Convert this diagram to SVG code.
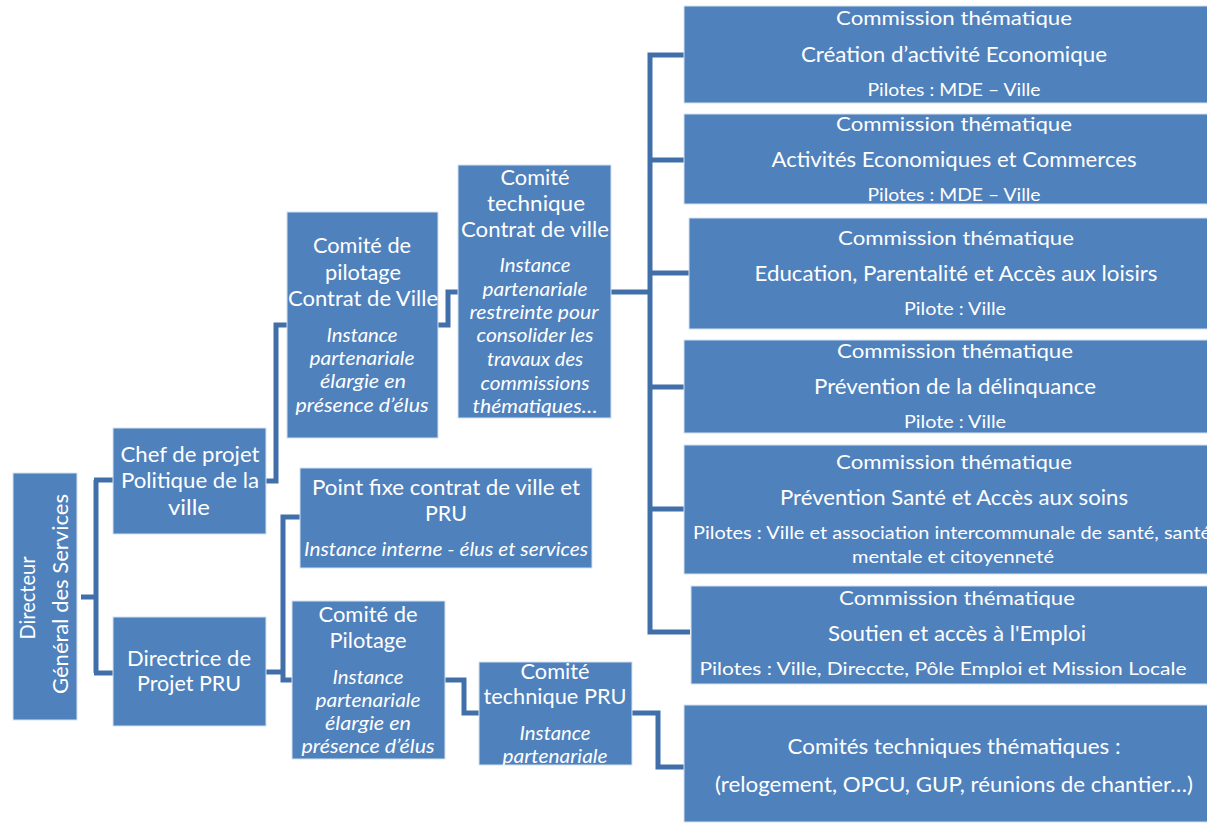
<svg xmlns="http://www.w3.org/2000/svg" width="1207" height="824" viewBox="0 0 1207 824">
<style>
.box{fill:#4F81BD;stroke:#D6E1EF;stroke-width:1}
.con{fill:none;stroke:#416FA9;stroke-width:5;stroke-linejoin:miter}
text{font-family:"Lato","Liberation Sans",sans-serif;fill:#FFFFFF;text-anchor:middle}
.r{font-size:21px}
.i{font-size:19px;font-style:italic}
.h{font-size:20px}
.s{font-size:21px}
.p{font-size:18px}
</style>
<defs>
<clipPath id="ctpru"><rect x="479" y="662" width="153" height="103"/></clipPath>
</defs>
<g id="connectors">
<path class="con" d="M81,597 H96 M96,480 V673 M94,480 H113 M94,673 H113"/>
<path class="con" d="M266,481 H276 V325 H287"/>
<path class="con" d="M438,325 H448 V292 H458"/>
<path class="con" d="M611,292 H650"/>
<path class="con" d="M684,55 H650 V632 H690 M650,160 H684 M650,273 H689 M650,387 H684 M650,509 H684"/>
<path class="con" d="M266,672 H283 V517 H300 M283,670 V680 H292"/>
<path class="con" d="M445,680 H464 V713 H479"/>
<path class="con" d="M632,713 H658 V767 H684"/>
</g>
<g id="n-directeur">
<rect class="box" x="13" y="473" width="64" height="247"/>
<text class="r" transform="translate(35,598) rotate(-90)" textLength="83" lengthAdjust="spacingAndGlyphs">Directeur</text>
<text class="r" transform="translate(68,594) rotate(-90)" textLength="200" lengthAdjust="spacingAndGlyphs">Général des Services</text>
</g>
<g id="n-chef">
<rect class="box" x="113" y="428" width="153" height="106"/>
<text class="r" x="190" y="462" textLength="139" lengthAdjust="spacingAndGlyphs">Chef de projet</text>
<text class="r" x="190" y="488" textLength="138" lengthAdjust="spacingAndGlyphs">Politique de la</text>
<text class="r" x="189" y="515" textLength="42" lengthAdjust="spacingAndGlyphs">ville</text>
</g>
<g id="n-directrice">
<rect class="box" x="113" y="617" width="153" height="109"/>
<text class="r" x="189" y="666" textLength="124" lengthAdjust="spacingAndGlyphs">Directrice de</text>
<text class="r" x="189" y="691" textLength="104" lengthAdjust="spacingAndGlyphs">Projet PRU</text>
</g>
<g id="n-copil-cv">
<rect class="box" x="287" y="212" width="151" height="226"/>
<text class="r" x="362" y="253" textLength="98" lengthAdjust="spacingAndGlyphs">Comité de</text>
<text class="r" x="363" y="280" textLength="76" lengthAdjust="spacingAndGlyphs">pilotage</text>
<text class="r" x="363" y="306" textLength="150" lengthAdjust="spacingAndGlyphs">Contrat de Ville</text>
<text class="i" x="362" y="342" textLength="71" lengthAdjust="spacingAndGlyphs">Instance</text>
<text class="i" x="362" y="365" textLength="105" lengthAdjust="spacingAndGlyphs">partenariale</text>
<text class="i" x="363" y="388" textLength="86" lengthAdjust="spacingAndGlyphs">élargie en</text>
<text class="i" x="362" y="412" textLength="133" lengthAdjust="spacingAndGlyphs">présence d’élus</text>
</g>
<g id="n-cotech-cv">
<rect class="box" x="458" y="165" width="153" height="253"/>
<text class="r" x="535" y="185" textLength="69" lengthAdjust="spacingAndGlyphs">Comité</text>
<text class="r" x="536" y="211" textLength="98" lengthAdjust="spacingAndGlyphs">technique</text>
<text class="r" x="535" y="237" textLength="148" lengthAdjust="spacingAndGlyphs">Contrat de ville</text>
<text class="i" x="535" y="272" textLength="71" lengthAdjust="spacingAndGlyphs">Instance</text>
<text class="i" x="535" y="296" textLength="105" lengthAdjust="spacingAndGlyphs">partenariale</text>
<text class="i" x="534" y="319" textLength="129" lengthAdjust="spacingAndGlyphs">restreinte pour</text>
<text class="i" x="535" y="342" textLength="117" lengthAdjust="spacingAndGlyphs">consolider les</text>
<text class="i" x="535" y="366" textLength="96" lengthAdjust="spacingAndGlyphs">travaux des</text>
<text class="i" x="535" y="390" textLength="109" lengthAdjust="spacingAndGlyphs">commissions</text>
<text class="i" x="535" y="413" textLength="125" lengthAdjust="spacingAndGlyphs">thématiques…</text>
</g>
<g id="n-pointfixe">
<rect class="box" x="300" y="468" width="292" height="100"/>
<text class="r" x="446" y="495" textLength="268" lengthAdjust="spacingAndGlyphs">Point fixe contrat de ville et</text>
<text class="r" x="446" y="521" textLength="42" lengthAdjust="spacingAndGlyphs">PRU</text>
<text class="i" x="446" y="556" textLength="284" lengthAdjust="spacingAndGlyphs">Instance interne - élus et services</text>
</g>
<g id="n-copil-pru">
<rect class="box" x="292" y="601" width="153" height="158"/>
<text class="r" x="368" y="622" textLength="99" lengthAdjust="spacingAndGlyphs">Comité de</text>
<text class="r" x="368" y="648" textLength="77" lengthAdjust="spacingAndGlyphs">Pilotage</text>
<text class="i" x="368" y="684" textLength="71" lengthAdjust="spacingAndGlyphs">Instance</text>
<text class="i" x="368" y="707" textLength="105" lengthAdjust="spacingAndGlyphs">partenariale</text>
<text class="i" x="368" y="730" textLength="86" lengthAdjust="spacingAndGlyphs">élargie en</text>
<text class="i" x="368" y="753" textLength="133" lengthAdjust="spacingAndGlyphs">présence d’élus</text>
</g>
<g id="n-cotech-pru">
<rect class="box" x="479" y="662" width="153" height="103"/>
<g clip-path="url(#ctpru)">
<text class="r" x="555" y="679" textLength="69" lengthAdjust="spacingAndGlyphs">Comité</text>
<text class="r" x="555" y="704" textLength="143" lengthAdjust="spacingAndGlyphs">technique PRU</text>
<text class="i" x="555" y="740" textLength="71" lengthAdjust="spacingAndGlyphs">Instance</text>
<text class="i" x="555" y="763" textLength="105" lengthAdjust="spacingAndGlyphs">partenariale</text>
</g>
</g>
<g id="n-com1">
<rect class="box" x="684" y="6" width="530" height="97"/>
<text class="h" x="954" y="25" textLength="236" lengthAdjust="spacingAndGlyphs">Commission thématique</text>
<text class="s" x="954" y="62" textLength="306" lengthAdjust="spacingAndGlyphs">Création d’activité Economique</text>
<text class="p" x="954" y="96" textLength="173" lengthAdjust="spacingAndGlyphs">Pilotes : MDE – Ville</text>
</g>
<g id="n-com2">
<rect class="box" x="684" y="114" width="530" height="90"/>
<text class="h" x="954" y="131" textLength="236" lengthAdjust="spacingAndGlyphs">Commission thématique</text>
<text class="s" x="954" y="167" textLength="365" lengthAdjust="spacingAndGlyphs">Activités Economiques et Commerces</text>
<text class="p" x="954" y="201" textLength="173" lengthAdjust="spacingAndGlyphs">Pilotes : MDE – Ville</text>
</g>
<g id="n-com3">
<rect class="box" x="689" y="218" width="530" height="111"/>
<text class="h" x="956" y="245" textLength="236" lengthAdjust="spacingAndGlyphs">Commission thématique</text>
<text class="s" x="956" y="281" textLength="403" lengthAdjust="spacingAndGlyphs">Education, Parentalité et Accès aux loisirs</text>
<text class="p" x="955" y="315" textLength="102" lengthAdjust="spacingAndGlyphs">Pilote : Ville</text>
</g>
<g id="n-com4">
<rect class="box" x="684" y="340" width="530" height="93"/>
<text class="h" x="955" y="358" textLength="236" lengthAdjust="spacingAndGlyphs">Commission thématique</text>
<text class="s" x="955" y="394" textLength="282" lengthAdjust="spacingAndGlyphs">Prévention de la délinquance</text>
<text class="p" x="955" y="428" textLength="102" lengthAdjust="spacingAndGlyphs">Pilote : Ville</text>
</g>
<g id="n-com5">
<rect class="box" x="684" y="445" width="530" height="129"/>
<text class="h" x="954" y="469" textLength="236" lengthAdjust="spacingAndGlyphs">Commission thématique</text>
<text class="s" x="954" y="505" textLength="348" lengthAdjust="spacingAndGlyphs">Prévention Santé et Accès aux soins</text>
<text class="p" x="693" y="539" style="text-anchor:start" textLength="518" lengthAdjust="spacingAndGlyphs">Pilotes : Ville et association intercommunale de santé, santé</text>
<text class="p" x="953" y="563" textLength="202" lengthAdjust="spacingAndGlyphs">mentale et citoyenneté</text>
</g>
<g id="n-com6">
<rect class="box" x="691" y="586" width="530" height="98"/>
<text class="h" x="957" y="605" textLength="236" lengthAdjust="spacingAndGlyphs">Commission thématique</text>
<text class="s" x="957" y="641" textLength="258" lengthAdjust="spacingAndGlyphs">Soutien et accès à l'Emploi</text>
<text class="p" x="943" y="675" textLength="487" lengthAdjust="spacingAndGlyphs">Pilotes : Ville, Direccte, Pôle Emploi et Mission Locale</text>
</g>
<g id="n-cotech-them">
<rect class="box" x="684" y="705" width="530" height="117"/>
<text class="s" x="954" y="754" textLength="333" lengthAdjust="spacingAndGlyphs">Comités techniques thématiques :</text>
<text class="s" x="954" y="792" textLength="478" lengthAdjust="spacingAndGlyphs">(relogement, OPCU, GUP, réunions de chantier…)</text>
</g>
</svg>
